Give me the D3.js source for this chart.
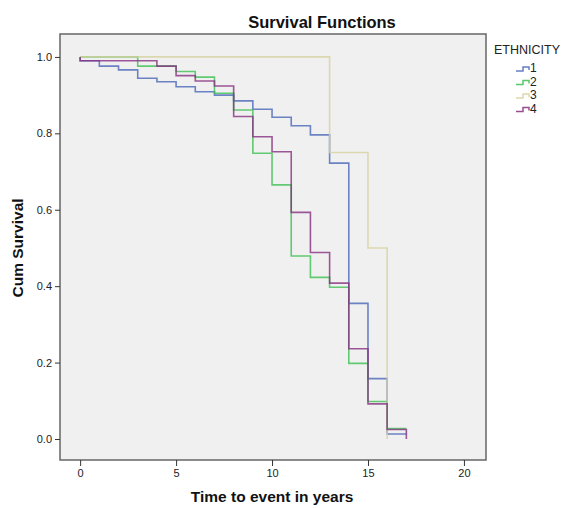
<html>
<head>
<meta charset="utf-8" />
<title>Survival Functions</title>
<script src="https://cdn.jsdelivr.net/npm/d3@7"></script>
<style>
body { margin: 0; background: #ffffff; }
text { font-family: "Liberation Sans", Arial, sans-serif; }
.axis text { font-size: 11px; fill: #222; }
.axis line { stroke: #333; }
</style>
</head>
<body>
<script>

// time points (years) and cumulative survival for each ethnicity group
var times1 = [0,0,1,2,3,4,5,6,7,8,9,10,11,12,13,14,15,16,17];
var surv1  = [1.0,0.990,0.976,0.966,0.944,0.935,0.922,0.909,0.900,0.885,0.863,0.842,0.820,0.796,0.722,0.355,0.158,0.013,0.013];

var times2 = [0,3,4,5,6,7,8,9,10,11,12,13,14,15,16,17];
var surv2  = [1.0,0.976,0.976,0.962,0.947,0.905,0.861,0.748,0.665,0.479,0.423,0.397,0.198,0.098,0.027,0.027];

var times3 = [0,13,15,16];
var surv3  = [1.0,0.75,0.50,0.0];

var times4 = [0,0,4,5,6,7,8,9,10,11,12,13,14,15,16,17];
var surv4  = [1.0,0.990,0.976,0.951,0.937,0.924,0.844,0.791,0.752,0.593,0.488,0.408,0.236,0.092,0.025,0.0];

var groups = ["1","2","3","4"];
var colors = ["#4a66b8","#3cbf52","#d6d2a0","#85307f"];

var xTicks = [0,5,10,15,20];
var yTicks = [0,0.2,0.4,0.6,0.8,1.0];

var margin = {top: 34, right: 75, bottom: 48, left: 60};
var width = 561 - margin.left - margin.right,
    height = 508 - margin.top - margin.bottom;

var base = d3.select("body").append("svg")
  .attr("width", 561)
  .attr("height", 508);

var svg = base.append("g").attr("transform", "translate(" + margin.left + "," + margin.top + ")");

var xScale = d3.scaleLinear().domain([-1.05, 21.15]).range([0, width]);
var yScale = d3.scaleLinear().domain([-0.055, 1.06]).range([height, 0]);

// plot background
svg.append("rect")
  .attr("width", width).attr("height", height)
  .attr("fill", "#f0f0f0");

var series = [
  {name: groups[0], t: times1, s: surv1},
  {name: groups[1], t: times2, s: surv2},
  {name: groups[2], t: times3, s: surv3},
  {name: groups[3], t: times4, s: surv4}
];

var line = d3.line()
  .x(function(d) { return xScale(d[0]); })
  .y(function(d) { return yScale(d[1]); })
  .curve(d3.curveStepAfter);

series.forEach(function(sr, i) {
  var pts = sr.t.map(function(t, j) { return [t, sr.s[j]]; });
  svg.append("path")
    .datum(pts)
    .attr("fill", "none")
    .attr("stroke", colors[i])
    .attr("stroke-width", 1.6)
    .attr("stroke-opacity", 0.8)
    .attr("d", line);
});

// frame
svg.append("rect")
  .attr("width", width).attr("height", height)
  .attr("fill", "none")
  .attr("stroke", "#666")
  .attr("stroke-width", 1.5);

var yAxis = svg.append("g").attr("class", "axis")
  .call(d3.axisLeft(yScale).tickValues(yTicks).tickFormat(d3.format(".1f")).tickSize(5).tickPadding(3));
yAxis.select(".domain").remove();

var xAxis = svg.append("g").attr("class", "axis")
  .attr("transform", "translate(0," + height + ")")
  .call(d3.axisBottom(xScale).tickValues(xTicks).tickSize(6).tickPadding(3));
xAxis.select(".domain").remove();

// title and axis labels
base.append("text")
  .attr("x", 322).attr("y", 28)
  .attr("text-anchor", "middle")
  .attr("font-size", "16.5px").attr("font-weight", "bold")
  .attr("fill", "#111")
  .text("Survival Functions");

base.append("text")
  .attr("x", margin.left + xScale(10)).attr("y", 502)
  .attr("text-anchor", "middle")
  .attr("font-size", "15.5px").attr("font-weight", "bold")
  .attr("fill", "#111")
  .text("Time to event in years");

base.append("text")
  .attr("transform", "translate(23," + (margin.top + yScale(0.5)) + ") rotate(-90)")
  .attr("text-anchor", "middle")
  .attr("font-size", "15.5px").attr("font-weight", "bold")
  .attr("fill", "#111")
  .text("Cum Survival");

// legend
var legend = base.append("g").attr("transform", "translate(494,0)");
legend.append("text")
  .attr("x", 0).attr("y", 54)
  .attr("font-size", "12.5px")
  .attr("fill", "#222")
  .text("ETHNICITY");

groups.forEach(function(g, i) {
  var y = 71 + i * 13.5;
  legend.append("path")
    .attr("d", "M22," + y + "H29V" + (y - 4) + "H35V" + (y - 1))
    .attr("fill", "none")
    .attr("stroke", colors[i])
    .attr("stroke-width", 1.5)
    .attr("stroke-opacity", 0.85);
  legend.append("text")
    .attr("x", 36).attr("y", y + 1)
    .attr("font-size", "12px")
    .attr("fill", "#222")
    .text(g);
});

</script>
</body>
</html>
